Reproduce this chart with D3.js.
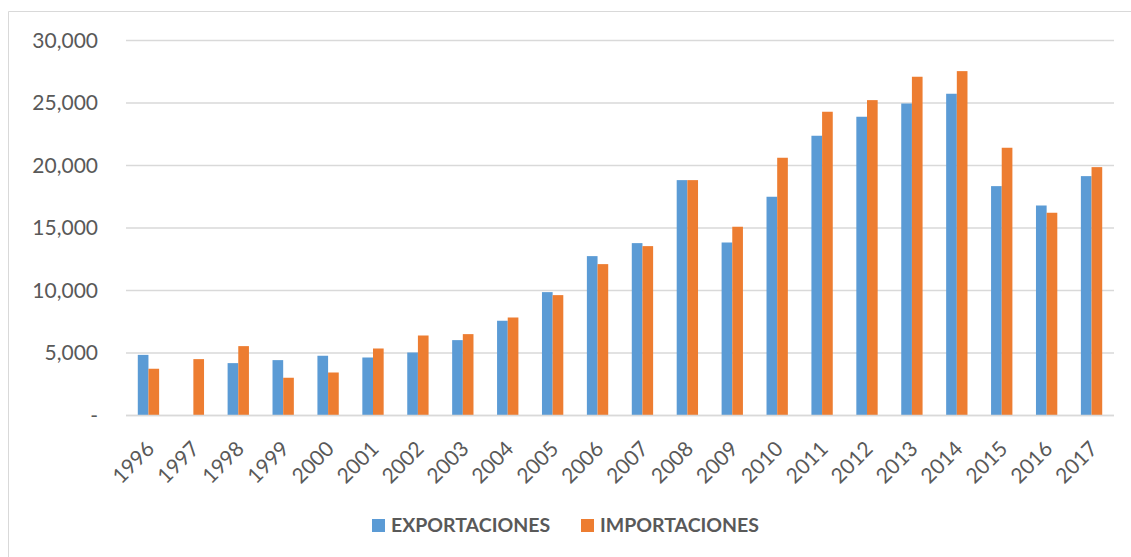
<!DOCTYPE html>
<html><head><meta charset="utf-8">
<script src="https://cdn.jsdelivr.net/npm/d3@7"></script>
<style>body{margin:0;background:#fff;}svg{display:block;}</style>
</head><body>
<script>
const years = ["1996","1997","1998","1999","2000","2001","2002","2003","2004","2005","2006","2007","2008","2009","2010","2011","2012","2013","2014","2015","2016","2017"];
const exportaciones = [4850,0,4190,4430,4780,4640,5040,6030,7580,9870,12750,13790,18830,13840,17500,22380,23900,24960,25740,18350,16800,19150];
const importaciones = [3740,4510,5550,3020,3440,5360,6400,6510,7840,9630,12110,13550,18830,15100,20620,24300,25230,27100,27550,21420,16220,19870];
const seriesNames = ["EXPORTACIONES","IMPORTACIONES"];
const seriesColors = ["#5B9BD5","#ED7D31"];
const yTicks = [0,5000,10000,15000,20000,25000,30000];

const W=1131,H=557;
const svg=d3.select("body").append("svg").attr("width",W).attr("height",H);
// frame
svg.append("path").attr("d",`M8.5,${H} L8.5,11.5 L${W},11.5`).attr("fill","none").attr("stroke","#D9D9D9").attr("stroke-width",1);

const x0=d3.scaleBand().domain(years).range([126,1114]).paddingInner(0.525).paddingOuter(0.2625);
const x1=d3.scaleBand().domain(seriesNames).range([0,x0.bandwidth()]);
const y=d3.scaleLinear().domain([0,30000]).range([415.5,40.5]);

const fmt=d3.format(",");
const gy=svg.append("g");
gy.selectAll("line").data(yTicks).join("line")
 .attr("x1",126).attr("x2",1114).attr("y1",d=>y(d)).attr("y2",d=>y(d))
 .attr("stroke","#D9D9D9").attr("stroke-width",1.3);
gy.selectAll("text").data(yTicks).join("text")
 .attr("x",98).attr("y",d=>y(d)).attr("dy","0.35em").attr("text-anchor","end")
 .attr("font-family","Lato, 'Noto Sans', sans-serif").attr("font-size",21).attr("fill","#595959")
 .text(d=>d===0?"-":fmt(d));

const data=years.map((yr,i)=>({yr,vals:[exportaciones[i],importaciones[i]]}));
const g=svg.append("g");
g.selectAll("g").data(data).join("g").attr("transform",d=>`translate(${x0(d.yr)},0)`)
 .selectAll("rect").data(d=>d.vals.map((v,j)=>({v,j}))).join("rect")
 .attr("x",d=>x1(seriesNames[d.j])).attr("width",x1.bandwidth())
 .attr("y",d=>y(d.v)).attr("height",d=>y(0)-y(d.v))
 .attr("fill",d=>seriesColors[d.j]);

// baseline
svg.append("line").attr("x1",126).attr("x2",1114).attr("y1",y(0)).attr("y2",y(0)).attr("stroke","#D9D9D9").attr("stroke-width",1.5);

// x labels
svg.append("g").selectAll("text").data(years).join("text")
 .attr("transform",d=>`translate(${x0(d)+x0.bandwidth()/2+2},${445}) rotate(-45)`)
 .attr("text-anchor","end").attr("dy","0.35em")
 .attr("font-family","Lato, 'Noto Sans', sans-serif").attr("font-size",21).attr("fill","#595959")
 .text(d=>d);

// legend
const leg=svg.append("g");
const legX=[372,581];
seriesNames.forEach((n,i)=>{
  leg.append("rect").attr("x",legX[i]).attr("y",519).attr("width",13).attr("height",13).attr("fill",seriesColors[i]);
  leg.append("text").attr("x",legX[i]+19).attr("y",525.5).attr("dy","0.35em")
   .attr("font-family","Lato, 'Noto Sans', sans-serif").attr("font-weight","bold").attr("font-size",19.5).attr("fill","#595959").text(n);
});
</script>
</body></html>
